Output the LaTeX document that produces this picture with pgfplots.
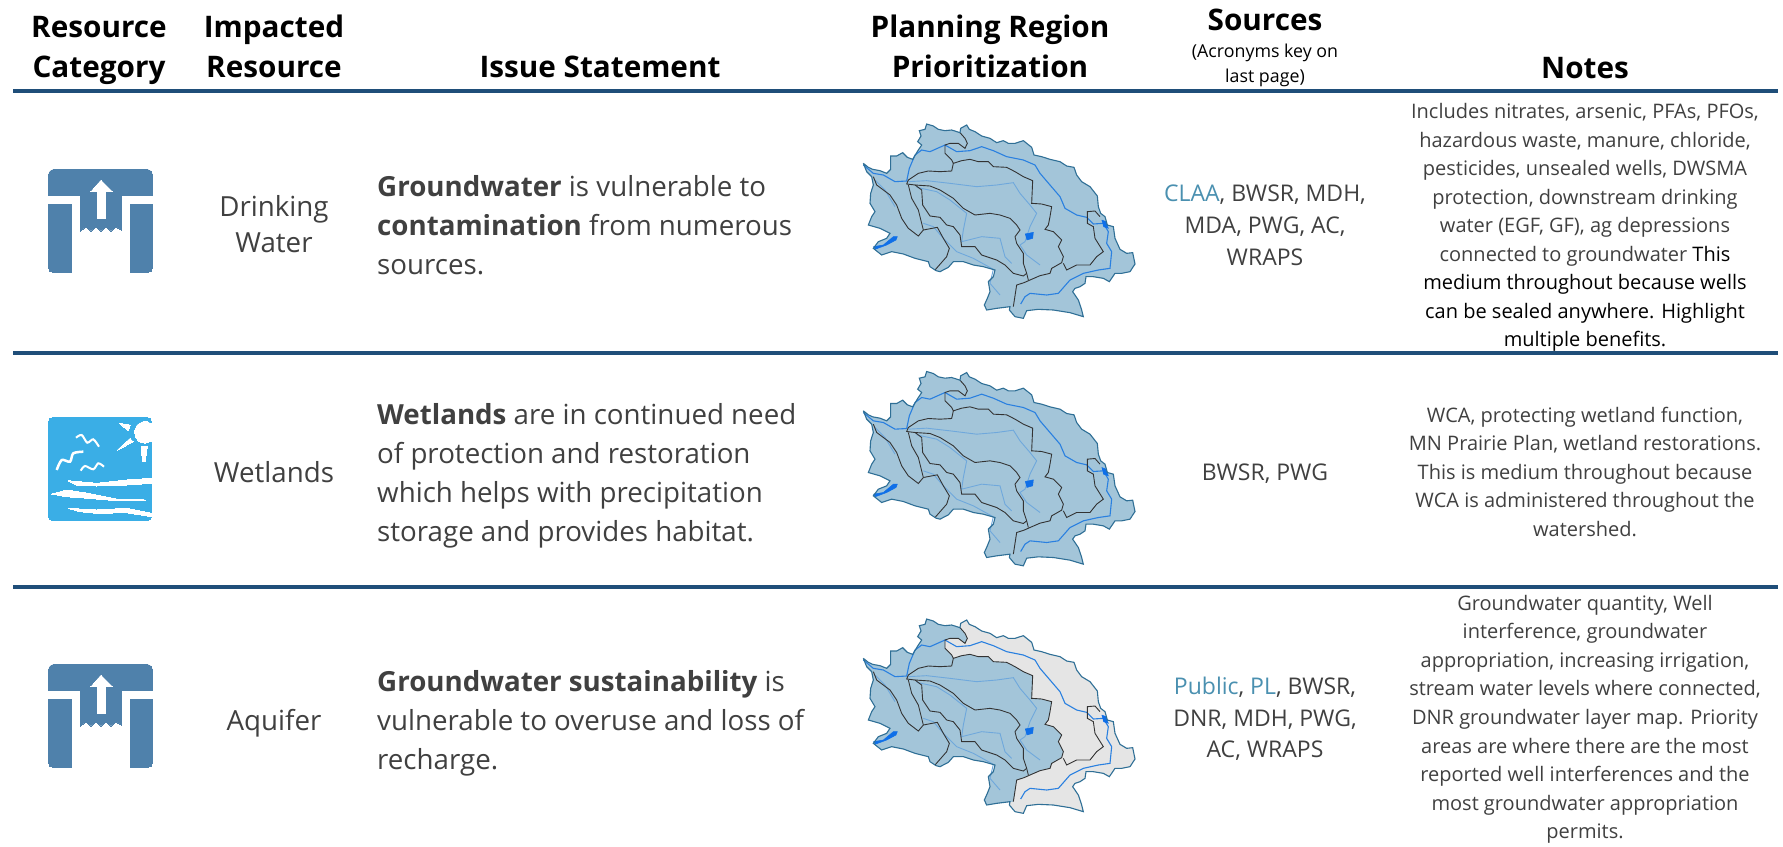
\documentclass[border=0pt]{standalone}
\usepackage{pgfplots}
\pgfplotsset{compat=1.18}
\usepackage{pgfplotstable}
\usepackage{fontspec}
\setmainfont{Open Sans}
\definecolor{rule}{HTML}{1F4E79}
\definecolor{bodyt}{HTML}{404040}
\definecolor{linkc}{HTML}{4A90B0}
\definecolor{mapf}{HTML}{A3C5D9}
\definecolor{mapo}{HTML}{2F6F96}
\definecolor{riv}{HTML}{2A80E0}
\definecolor{rivp}{HTML}{6FA8DC}
\definecolor{lake}{HTML}{0F6FE8}
\definecolor{ic}{HTML}{4F81AB}
\definecolor{icb}{HTML}{3AAEE6}
\pgfplotstableread[row sep=\\]{x y\\40 160\\55 172\\68 178\\90 182\\110 190\\122 178\\122 138\\140 138\\158 128\\172 142\\188 148\\205 120\\215 105\\203 95\\213 78\\208 62\\225 58\\230 42\\250 48\\265 58\\285 62\\305 60\\330 68\\332 55\\350 45\\358 58\\375 65\\395 78\\420 85\\440 98\\460 92\\475 100\\495 100\\520 92\\545 112\\552 135\\575 140\\600 148\\630 155\\650 168\\672 172\\680 195\\695 215\\720 230\\742 258\\745 290\\752 310\\765 320\\772 345\\790 350\\795 385\\810 418\\830 430\\848 428\\855 462\\840 485\\815 490\\795 490\\778 515\\760 505\\730 500\\708 500\\705 520\\690 530\\675 535\\668 545\\685 570\\695 600\\700 620\\660 608\\610 600\\565 598\\530 602\\520 625\\495 620\\478 600\\480 590\\440 595\\410 600\\403 585\\412 565\\420 545\\415 515\\430 500\\435 480\\400 470\\370 465\\340 455\\310 455\\295 472\\270 485\\258 482\\240 470\\235 455\\195 445\\160 432\\125 425\\95 435\\70 415\\85 395\\110 385\\120 370\\90 355\\55 345\\65 320\\75 305\\60 280\\62 250\\70 225\\65 200\\50 185\\40 160\\}\tOut
\pgfplotstableread[row sep=\\]{x y\\40 160\\55 172\\68 178\\90 182\\110 190\\122 178\\122 138\\140 138\\158 128\\172 142\\188 148\\205 120\\215 105\\203 95\\213 78\\208 62\\225 58\\230 42\\250 48\\265 58\\285 62\\305 60\\330 68\\345 85\\352 100\\345 115\\325 100\\300 100\\285 105\\285 130\\305 150\\310 160\\335 152\\360 148\\385 155\\415 155\\430 170\\470 172\\495 185\\520 200\\548 212\\545 280\\575 282\\605 290\\600 320\\595 345\\585 358\\610 365\\635 390\\625 410\\640 440\\635 458\\605 475\\600 490\\570 497\\540 510\\522 518\\500 525\\490 590\\440 595\\410 600\\403 585\\412 565\\420 545\\415 515\\430 500\\435 480\\400 470\\370 465\\340 455\\310 455\\295 472\\270 485\\258 482\\240 470\\235 455\\195 445\\160 432\\125 425\\95 435\\70 415\\85 395\\110 385\\120 370\\90 355\\55 345\\65 320\\75 305\\60 280\\62 250\\70 225\\65 200\\50 185\\40 160\\}\tWest
\pgfplotstableread[row sep=\\]{x y\\330 68\\345 85\\352 100\\345 115\\325 100\\300 100\\285 105\\285 130\\305 150\\310 160\\335 152\\360 148\\385 155\\415 155\\430 170\\470 172\\495 185\\520 200\\548 212\\545 280\\575 282\\605 290\\600 320\\595 345\\585 358\\610 365\\635 390\\625 410\\640 440\\635 458\\605 475\\600 490\\570 497\\540 510\\522 518\\500 525\\490 590\\}\tA
\pgfplotstableread[row sep=\\]{x y\\310 160\\305 183\\270 185\\235 183\\205 190\\175 210\\170 222\\195 225\\240 228\\270 240\\310 265\\340 295\\375 315\\420 310\\450 315\\480 325\\500 345\\510 360\\495 380\\500 400\\520 430\\520 460\\530 490\\535 510\\}\tB
\pgfplotstableread[row sep=\\]{x y\\195 225\\215 240\\218 285\\240 318\\270 322\\290 345\\310 350\\330 375\\335 410\\375 410\\395 435\\440 450\\465 465\\490 490\\520 498\\530 490\\}\tD
\pgfplotstableread[row sep=\\]{x y\\175 225\\185 265\\205 300\\220 360\\205 378\\175 355\\155 325\\140 285\\120 255\\80 225\\70 200\\}\tE
\pgfplotstableread[row sep=\\]{x y\\220 360\\262 352\\280 385\\298 415\\290 440\\255 480\\}\tF
\pgfplotstableread[row sep=\\]{x y\\640 460\\650 480\\680 465\\720 465\\740 440\\760 425\\735 385\\730 350\\712 340\\712 305\\735 303\\750 320\\}\tG
\pgfplotstableread[row sep=\\]{x y\\40 165\\70 190\\100 195\\135 215\\170 213\\178 175\\195 135\\215 120\\240 125\\285 105\\320 125\\360 122\\395 110\\430 122\\470 140\\520 150\\555 165\\570 190\\600 225\\630 260\\645 295\\680 315\\710 322\\730 342\\760 340\\775 365\\770 400\\785 425\\780 475\\745 480\\700 490\\660 510\\625 550\\590 555\\540 550\\525 560\\512 582\\}\tR
\pgfplotstableread[row sep=\\]{x y\\175 215\\230 212\\300 220\\380 230\\440 225\\490 218\\510 250\\540 285\\560 310\\540 350\\525 395\\510 405\\530 435\\570 465\\}\tPa
\pgfplotstableread[row sep=\\]{x y\\200 232\\260 245\\300 270\\350 310\\340 360\\335 395\\395 380\\450 385\\465 440\\485 460\\}\tPb
\pgfplotstableread[row sep=\\]{x y\\220 340\\250 350\\280 385\\320 425\\370 445\\430 478\\420 520\\450 555\\}\tPc
\pgfplotstableread[row sep=\\]{x y\\75 210\\105 240\\135 290\\}\tPd
\pgfplotstableread[row sep=\\]{x y\\525 372\\550 367\\548 385\\530 390\\}\tLa
\pgfplotstableread[row sep=\\]{x y\\70 410\\100 405\\130 380\\142 380\\138 390\\110 405\\75 418\\}\tLb
\pgfplotstableread[row sep=\\]{x y\\755 330\\768 335\\775 355\\760 350\\}\tLc
\newcommand{\mpl}[3]{\addplot[#1] table[x expr=850+\thisrow{x}/3,y expr=110+\thisrow{y}/3+#3]{#2};}
\newcommand{\maplines}[1]{%
 \mpl{rivp,line width=.9pt}{\tPa}{#1}\mpl{rivp,line width=.9pt}{\tPb}{#1}\mpl{rivp,line width=.9pt}{\tPc}{#1}\mpl{rivp,line width=.9pt}{\tPd}{#1}%
 \mpl{riv,line width=1.1pt}{\tR}{#1}%
 \mpl{lake,fill=lake,line width=.5pt}{\tLa}{#1}\mpl{lake,fill=lake,line width=.5pt}{\tLb}{#1}\mpl{lake,fill=lake,line width=.5pt}{\tLc}{#1}%
 \mpl{black!80,line width=.9pt}{\tA}{#1}\mpl{black!80,line width=.9pt}{\tB}{#1}\mpl{black!80,line width=.9pt}{\tD}{#1}\mpl{black!80,line width=.9pt}{\tE}{#1}\mpl{black!80,line width=.9pt}{\tF}{#1}\mpl{black!80,line width=.9pt}{\tG}{#1}%
 \mpl{mapo,line width=1.1pt}{\tOut}{#1}}
\newcommand{\wellicon}[1]{%
 \addplot[ic,fill=ic,line width=0pt] coordinates {(48.3,204+#1)(71.7,204+#1)(71.7,272.7+#1)(54,272.7+#1)(50,271+#1)(48.3,267+#1)} --cycle;
 \addplot[ic,fill=ic,line width=0pt] coordinates {(130,204+#1)(152.7,204+#1)(152.7,267+#1)(151,271+#1)(147,272.7+#1)(130,272.7+#1)} --cycle;
 \addplot[ic,fill=ic,line width=0pt] coordinates {(48.3,195+#1)(48.3,175+#1)(50,171+#1)(54,169+#1)(147,169+#1)(151,171+#1)(152.7,175+#1)(152.7,195+#1)(121.7,195+#1)(121.7,230+#1)(116,227+#1)(111,231+#1)(106,227+#1)(101,231+#1)(96,227+#1)(91,231+#1)(86,227+#1)(80,231+#1)(80,195+#1)} --cycle;
 \addplot[white,fill=white,line width=0pt] coordinates {(101,180+#1)(112.7,191.7+#1)(105,191.7+#1)(105,218+#1)(97.7,218+#1)(97.7,191.7+#1)(90.7,191.7+#1)} --cycle;}
\tikzset{fh/.style={font=\fontsize{29.7}{32}\selectfont\bfseries},fs/.style={font=\fontsize{17.8}{20}\selectfont},fb/.style={font=\fontsize{27.7}{32}\selectfont},fr/.style={font=\fontsize{23}{26}\selectfont},fn/.style={font=\fontsize{20}{24}\selectfont}}
\newcommand{\tln}[5][bodyt]{\node[anchor=base,text=#1,inner sep=0pt,#2] at (axis cs:#3,#4) {#5};}
\newcommand{\tll}[3]{\node[anchor=base west,text=bodyt,inner sep=0pt,fb] at (axis cs:#1,#2) {#3};}
\begin{document}
\begin{tikzpicture}
\begin{axis}[width=1783pt,height=846pt,scale only axis,hide axis,xmin=0,xmax=1783,ymin=0,ymax=846,y dir=reverse,clip=false]
\addplot[draw=none,fill=white] coordinates {(0,0)(1783,0)(1783,846)(0,846)} --cycle;
% rules
\addplot[rule,line width=4pt] coordinates {(13,91)(1778,91)};
\addplot[rule,line width=4pt] coordinates {(13,353)(1778,353)};
\addplot[rule,line width=4pt] coordinates {(13,587)(1778,587)};
% icons
\wellicon{0}
\wellicon{495}
\addplot[icb,fill=icb,rounded corners=5pt,line width=0pt] coordinates {(48.3,417.3)(151.7,417.3)(151.7,520.7)(48.3,520.7)} --cycle;
\addplot[white,fill=white,line width=0pt] coordinates {(151.7,423.7)(147,421.8)(142,422)(137,425)(134.5,431)(135.5,437)(139,441.5)(145,443)(151.7,441)} --cycle;
\addplot[white,fill=white,line width=0pt] coordinates {(119.3,423.3)(130,425)(128.3,430.7)} --cycle;
\addplot[white,fill=white,line width=0pt] coordinates {(117.3,450)(130,438.3)(133.3,441.7)} --cycle;
\addplot[white,fill=white,line width=0pt] coordinates {(141,446.7)(147.3,446.7)(145,461.7)(142.7,461.7)} --cycle;
\addplot[white,line width=2pt,smooth] coordinates {(76,437.7)(81.7,435)(87.3,442.7)(93.3,439.3)(99,446.7)};
\addplot[white,line width=2.5pt,smooth] coordinates {(56.7,470)(61.7,460)(70,461.7)(73.3,453.3)(83.3,451.7)};
\addplot[white,line width=2pt,smooth] coordinates {(80.7,470.7)(85,466)(93.3,469.3)(98.3,463.3)(104,466.7)};
\addplot[white,fill=white,line width=0pt] coordinates {(68.3,480.7)(96.7,483.3)(126.7,480)(151.7,478.3)(151.7,483.3)(126.7,485)(96.7,486)(76.7,485)} --cycle;
\addplot[white,fill=white,line width=0pt] coordinates {(51.7,494)(66.7,490)(88.3,493.3)(116.7,499)(145,500)(116.7,500.7)(88.3,498.3)(66.7,496.7)} --cycle;
\addplot[white,fill=white,line width=0pt] coordinates {(68.3,508.3)(96.7,510)(126.7,508.3)(151.7,513.3)(151.7,516.7)(126.7,512.7)(96.7,513.3)(80,511.7)} --cycle;
% map 1
\mpl{mapf,fill=mapf,draw=none}{\tOut}{0}
\maplines{0}
% map 2
\mpl{mapf,fill=mapf,draw=none}{\tOut}{247.5}
\maplines{247.5}
% map 3
\mpl{black!10,fill=black!10,draw=none}{\tOut}{495}
\mpl{mapf,fill=mapf,draw=none}{\tWest}{495}
\maplines{495}
% headers
\tln[black]{fh}{99}{37}{Resource}
\tln[black]{fh}{99}{77}{Category}
\tln[black]{fh}{274}{37}{Impacted}
\tln[black]{fh}{274}{77}{Resource}
\tln[black]{fh}{600}{77}{Issue Statement}
\tln[black]{fh}{990}{37}{Planning Region}
\tln[black]{fh}{990}{77}{Prioritization}
\tln[black]{fh}{1265}{30}{Sources}
\tln[black]{fh}{1585}{78}{Notes}
\tln[black]{fs}{1265}{57}{(Acronyms key on}
\tln[black]{fs}{1265}{82}{last page)}
% impacted resource
\tln{fb}{274}{216}{Drinking}
\tln{fb}{274}{252}{Water}
\tln{fb}{274}{482}{Wetlands}
\tln{fb}{274}{730}{Aquifer}
\tll{377}{196}{\textbf{Groundwater} is vulnerable to}
\tll{377}{235}{\textbf{contamination} from numerous}
\tll{377}{274}{sources.}
\tll{377}{424}{\textbf{Wetlands} are in continued need}
\tll{377}{463}{of protection and restoration}
\tll{377}{502}{which helps with precipitation}
\tll{377}{541}{storage and provides habitat.}
\tll{377}{691}{\textbf{Groundwater sustainability} is}
\tll{377}{730}{vulnerable to overuse and loss of}
\tll{377}{769}{recharge.}
% sources
\tln{fr}{1265}{201}{\textcolor{linkc}{CLAA}, BWSR, MDH,}
\tln{fr}{1265}{233}{MDA, PWG, AC,}
\tln{fr}{1265}{265}{WRAPS}
\tln{fr}{1265}{480}{BWSR, PWG}
\tln{fr}{1265}{694}{\textcolor{linkc}{Public}, \textcolor{linkc}{PL}, BWSR,}
\tln{fr}{1265}{726}{DNR, MDH, PWG,}
\tln{fr}{1265}{757}{AC, WRAPS}
% notes
\tln{fn}{1585}{118}{Includes nitrates, arsenic, PFAs, PFOs,}
\tln{fn}{1585}{147}{hazardous waste, manure, chloride,}
\tln{fn}{1585}{175}{pesticides, unsealed wells, DWSMA}
\tln{fn}{1585}{204}{protection, downstream drinking}
\tln{fn}{1585}{232}{water (EGF, GF), ag depressions}
\tln{fn}{1585}{261}{connected to groundwater \textcolor{black}{This}}
\tln[black]{fn}{1585}{289}{medium throughout because wells}
\tln[black]{fn}{1585}{318}{can be sealed anywhere. Highlight}
\tln[black]{fn}{1585}{346}{multiple benefits.}
\tln{fn}{1585}{422}{WCA, protecting wetland function,}
\tln{fn}{1585}{450}{MN Prairie Plan, wetland restorations.}
\tln{fn}{1585}{479}{This is medium throughout because}
\tln{fn}{1585}{507}{WCA is administered throughout the}
\tln{fn}{1585}{536}{watershed.}
\tln{fn}{1585}{610}{Groundwater quantity, Well}
\tln{fn}{1585}{638}{interference, groundwater}
\tln{fn}{1585}{667}{appropriation, increasing irrigation,}
\tln{fn}{1585}{695}{stream water levels where connected,}
\tln{fn}{1585}{724}{DNR groundwater layer map. Priority}
\tln{fn}{1585}{753}{areas are where there are the most}
\tln{fn}{1585}{781}{reported well interferences and the}
\tln{fn}{1585}{810}{most groundwater appropriation}
\tln{fn}{1585}{838}{permits.}
\end{axis}
\end{tikzpicture}
\end{document}
